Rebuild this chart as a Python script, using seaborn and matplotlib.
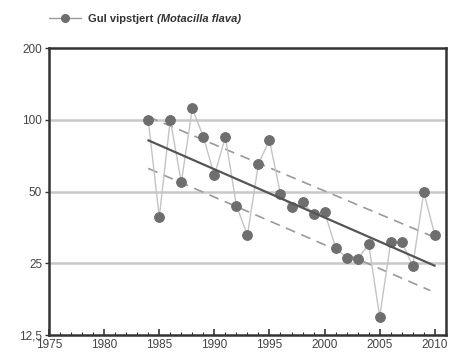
import numpy as np
import pandas as pd
import matplotlib
matplotlib.use("Agg")
import matplotlib.pyplot as plt
import seaborn as sns
from matplotlib.ticker import FixedLocator, MultipleLocator, NullFormatter
from matplotlib.lines import Line2D

years = [1984, 1985, 1986, 1987, 1988, 1989, 1990, 1991, 1992, 1993, 1994, 1995, 1996,
         1997, 1998, 1999, 2000, 2001, 2002, 2003, 2004, 2005, 2006, 2007, 2008, 2009, 2010]
index = [100, 39, 100, 54.6, 111.6, 84.9, 58.4, 84.6, 43.6, 32.8, 65.5, 81.9, 48.8,
         43.0, 45.0, 40.2, 41.0, 29.1, 26.3, 26.0, 30.1, 14.9, 30.7, 30.7, 24.4, 49.7, 32.9]

trend_years = [1984, 2010]
trend = [82, 24.4]
upper_years = [1984, 2010]
upper = [103, 32.1]
lower_years = [1984, 2009.6]
lower = [62.5, 19.2]

yticks = [12.5, 25, 50, 100, 200]
ytick_labels = ["12,5", "25", "50", "100", "200"]
xticks = [1975, 1980, 1985, 1990, 1995, 2000, 2005, 2010]

sns.set_style("white")
plt.rcParams['font.family'] = ['Liberation Sans', 'DejaVu Sans']

fig = plt.figure(figsize=(4.54, 3.61), dpi=100)
ax = fig.add_axes([0.108, 0.072, 0.874, 0.795])

df = pd.DataFrame({"year": years, "index": index})
dft = pd.DataFrame({"year": trend_years, "v": trend})
dfu = pd.DataFrame({"year": upper_years, "v": upper})
dfl = pd.DataFrame({"year": lower_years, "v": lower})

ax.set_yscale("log", base=2)
for y in [25, 50, 100]:
    ax.axhline(y, color="#c8c8c8", lw=1.8, zorder=0)

sns.lineplot(data=dfu, x="year", y="v", ax=ax, color="#9a9a9a", lw=1.2,
             linestyle=(0, (6, 4)), zorder=2)
sns.lineplot(data=dfl, x="year", y="v", ax=ax, color="#9a9a9a", lw=1.2,
             linestyle=(0, (6, 4)), zorder=2)
sns.lineplot(data=df, x="year", y="index", ax=ax, color="#c4c4c4", lw=1.0,
             marker="o", markersize=7, markerfacecolor="#6e6e6e",
             markeredgecolor="#6e6e6e", zorder=3)
sns.lineplot(data=dft, x="year", y="v", ax=ax, color="#555555", lw=1.6, zorder=4)

ax.set_xlim(1975, 2011)
ax.set_ylim(12.5, 200)
ax.yaxis.set_major_locator(FixedLocator(yticks))
ax.set_yticklabels(ytick_labels)
ax.yaxis.set_minor_locator(FixedLocator([]))
ax.yaxis.set_minor_formatter(NullFormatter())
ax.xaxis.set_major_locator(FixedLocator(xticks))
ax.xaxis.set_minor_locator(MultipleLocator(1))
ax.set_xlabel("")
ax.set_ylabel("")

for s in ax.spines.values():
    s.set_color("#333333")
    s.set_linewidth(1.8)

ax.tick_params(axis="y", which="major", direction="out", length=3, width=1,
               color="#333333", labelsize=8.5, labelcolor="#444444", pad=2, left=True)
ax.tick_params(axis="x", which="major", direction="in", length=4, width=1.2,
               color="#333333", labelsize=8.5, labelcolor="#444444", pad=3, bottom=True)
ax.tick_params(axis="x", which="minor", direction="in", length=2, width=0.8,
               color="#333333", bottom=True)

# Legend
h = Line2D([0], [0], color="#9a9a9a", lw=1.0, marker="o", markersize=5.5,
           markerfacecolor="#6e6e6e", markeredgecolor="#6e6e6e")
leg = fig.legend([h], ["Gul vipstjert"],
                 loc="upper left", bbox_to_anchor=(0.085, 0.99), frameon=False,
                 prop={"weight": "bold", "size": 8}, handlelength=2.9,
                 handletextpad=0.65)
lt = leg.get_texts()[0]
lt.set_color("#333333")

fig.canvas.draw()
r = fig.canvas.get_renderer()
bb = lt.get_window_extent(r)
fig.text(bb.x1 / fig.bbox.width + 0.008, (bb.y0 + bb.y1) / 2 / fig.bbox.height,
         "(Motacilla flava)", fontsize=8, fontweight="bold", fontstyle="italic",
         color="#333333", va="center", ha="left")

fig.savefig("out.png", dpi=100)
